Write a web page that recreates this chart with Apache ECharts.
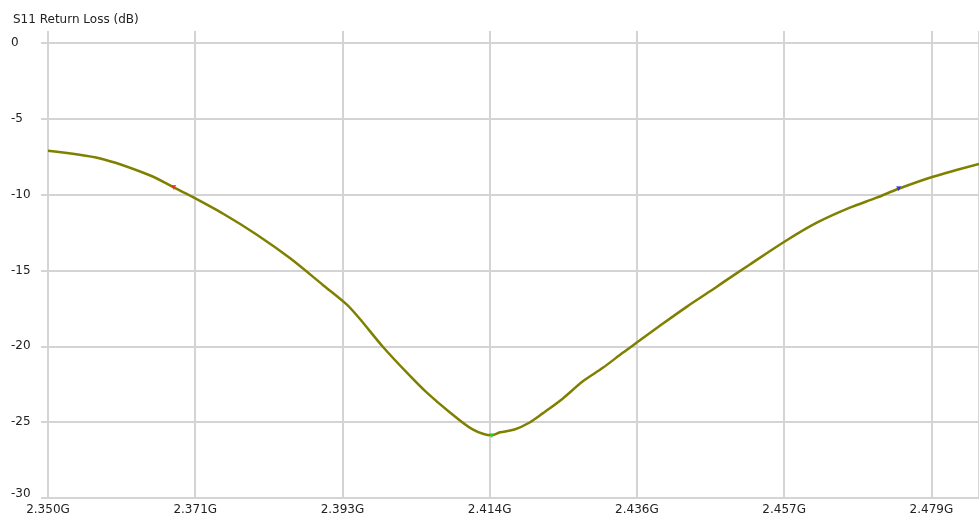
<!DOCTYPE html>
<html>
<head>
<meta charset="utf-8">
<script src="https://cdn.jsdelivr.net/npm/echarts@6/dist/echarts.min.js"></script>
<style>
html,body{margin:0;padding:0;background:#fff;}
#c{width:979px;height:520px;}
</style>
</head>
<body>
<div id="c"></div>
<script>
// Frequency points (GHz) and S11 return loss (dB)
var freqGHz = [2.3500,2.3576,2.3648,2.3683,2.3707,2.3755,2.3804,2.3852,2.3900,2.3935,2.3954,2.3987,2.4022,2.4051,2.4085,2.4118,2.4146,2.4158,2.4179,2.4201,2.4220,2.4249,2.4278,2.4308,2.4337,2.4361,2.4395,2.4430,2.4463,2.4482,2.4521,2.4574,2.4619,2.4667,2.4706,2.4738,2.4788,2.4855];
var s11dB   = [-7.11,-7.62,-8.72,-9.52,-10.07,-11.26,-12.64,-14.18,-15.95,-17.25,-18.20,-20.01,-21.72,-23.04,-24.36,-25.48,-25.87,-25.67,-25.48,-25.02,-24.42,-23.45,-22.32,-21.40,-20.41,-19.62,-18.50,-17.38,-16.39,-15.80,-14.62,-13.04,-11.85,-10.86,-10.20,-9.61,-8.82,-7.97];
// Markers
var markerFreq = [2.3683, 2.4146, 2.4738];
var markerDB = [-9.52, -25.90, -9.61];
var markerColors = ['#ff2020', '#20e020', '#2020ff'];
// Axis ticks
var xStartGHz = 2.350;
var xStepGHz = 0.15 / 7;
var xEndGHz = 2.4855;
var yTicks = [0, -5, -10, -15, -20, -25, -30];
var titleText = 'S11 Return Loss (dB)';

function toX(f) { return (f - xStartGHz) / xStepGHz; }

var lineData = freqGHz.map(function (f, i) { return [toX(f), s11dB[i]]; });
var markerSeries = markerFreq.map(function (f, i) {
  return {
    type: 'scatter', xAxisIndex: 0, yAxisIndex: 0,
    symbol: 'triangle', symbolRotate: 180, symbolSize: 5,
    itemStyle: { color: markerColors[i] },
    data: [[toX(f), markerDB[i]]], z: 5, silent: true
  };
});

var font = 'DejaVu Sans';
var gridColor = '#d4d4d4';
var gridWidth = 2;
var chart = echarts.init(document.getElementById('c'), null, { renderer: 'canvas' });
chart.setOption({
  animation: false,
  backgroundColor: '#ffffff',
  title: {
    text: titleText, left: 8, top: 9,
    textStyle: { fontFamily: font, fontSize: 12, fontWeight: 'normal', color: '#222' }
  },
  grid: { left: 48, right: 0, top: 43, bottom: 22, containLabel: false },
  xAxis: [{
    type: 'value', min: 0, max: toX(xEndGHz), interval: 1, position: 'bottom',
    axisLine: { show: false },
    axisTick: { show: true, length: 7, lineStyle: { color: gridColor, width: gridWidth } },
    splitLine: { show: true, lineStyle: { color: gridColor, width: gridWidth } },
    axisLabel: {
      margin: 6, fontFamily: font, fontSize: 12, color: '#222',
      showMaxLabel: false,
      formatter: function (v) { return (xStartGHz + v * xStepGHz).toFixed(3) + 'G'; }
    }
  }, {
    type: 'value', min: 0, max: toX(xEndGHz), interval: 1, position: 'top',
    axisLine: { show: false },
    axisTick: { show: true, length: 12, lineStyle: { color: gridColor, width: gridWidth } },
    splitLine: { show: false },
    axisLabel: { show: false }
  }],
  yAxis: {
    type: 'value', min: -30, max: 0, interval: 5,
    axisLine: { show: false },
    axisTick: { show: true, length: 7, lineStyle: { color: gridColor, width: gridWidth } },
    splitLine: { show: true, lineStyle: { color: gridColor, width: gridWidth } },
    axisLabel: {
      align: 'left', margin: 37, fontFamily: font, fontSize: 12, color: '#222',
      formatter: function (v) { return v === -30 ? '{up|-30}' : String(v); },
      rich: { up: { fontFamily: font, fontSize: 12, color: '#222', padding: [0, 0, 8, 0] } }
    }
  },
  series: [{
    type: 'line', xAxisIndex: 0, yAxisIndex: 0,
    data: lineData, smooth: 0.3, showSymbol: false, symbol: 'none',
    lineStyle: { color: '#808000', width: 2.5 }, silent: true, z: 3
  }].concat(markerSeries)
});
</script>
</body>
</html>
